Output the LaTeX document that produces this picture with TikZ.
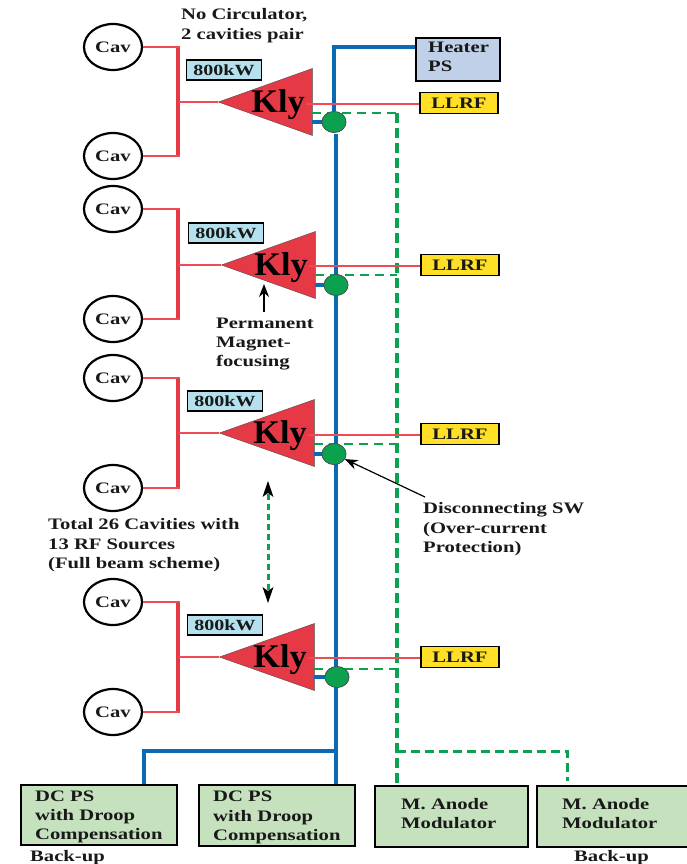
\documentclass[tikz,border=0pt]{standalone}
\usepackage{fontspec}
\setmainfont{Liberation Serif}[FakeStretch=1.29,BoldFont={Liberation Serif Bold}]
\newfontfamily\klyfont{Liberation Serif Bold}[FakeStretch=1.04]
\usetikzlibrary{arrows.meta,shapes.geometric}
\definecolor{rline}{HTML}{EE4B55}
\definecolor{rfill}{HTML}{E63946}
\definecolor{bline}{HTML}{0A6AB2}
\definecolor{gline}{HTML}{0BA14F}
\definecolor{boxg}{HTML}{C5E1BE}
\definecolor{boxb}{HTML}{BFD0E8}
\definecolor{boxc}{HTML}{B5E1EF}
\definecolor{boxy}{HTML}{FFE026}
\tikzset{
 every node/.style={font=\bfseries\fontsize{16}{19.3}\selectfont,text=black!90},
 cavnode/.style={draw,line width=2.2pt,ellipse,minimum width=58pt,minimum height=46pt,inner sep=0pt},
 kwbox/.style={draw,line width=1.4pt,fill=boxc,minimum width=75pt,minimum height=20pt,inner sep=0pt},
 llrfbox/.style={draw,line width=1.4pt,fill=boxy,minimum width=78pt,minimum height=21pt,inner sep=0pt},
 psbox/.style={draw,line width=1.7pt,fill=boxg,inner sep=0pt,anchor=north west,text width=0pt},
 swnode/.style={draw=black!70,line width=.6pt,fill=gline,ellipse,minimum width=24pt,minimum height=21pt,inner sep=0pt},
 note/.style={align=left,anchor=north west,inner sep=0pt},
 redt/.style={draw=rline,line width=2.8pt},
 bluew/.style={draw=bline,line width=3.4pt},
 greend/.style={draw=gline,line width=3.8pt,dash pattern=on 10pt off 5pt},
 greent/.style={draw=gline,line width=2.5pt,dash pattern=on 9pt off 6pt},
 ptr/.style={draw=black,line width=1.2pt,-{Stealth[length=13pt,width=10pt]}}
}
\begin{document}
\begin{tikzpicture}[x=1pt,y=-1pt]
\useasboundingbox (0,0) rectangle (687,864);
\foreach \n/\tx/\ty/\tr/\cx/\cy/\kx/\lx/\ca/\cb/\ly/\dy in {
 a/218/102/312/334/122/224/459/47/156/104/113,
 b/221/265/315/336/285/226/460/209/319/266/275,
 c/219/433/314/334/454/225/460/378/488/435/444,
 d/219/657/314/337/677/225/460/602/712/658/669}{
  \node[cavnode] (cav\n1) at (113,\ca) {Cav};
  \node[cavnode] (cav\n2) at (113,\cb) {Cav};
  \node[kwbox] (kw\n) at (\kx,{\ty-32}) {\fontsize{15.5}{18}\selectfont 800kW};
  \node[fill=rfill,draw=black!70,line width=.4pt,inner sep=0pt,
    isosceles triangle,isosceles triangle apex angle=71,shape border rotate=180,
    isosceles triangle stretches,minimum height={\tr-\tx},minimum width=67pt,anchor=apex] (kly\n) at (\tx,\ty) {};
  \node[font=\klyfont\fontsize{33}{33}\selectfont,text=black,inner sep=0pt] (klyt\n) at ({\tr-34},{\ty+3}) {Kly};
  \coordinate (bus\n1) at (178,\ca);
  \coordinate (bus\n2) at (178,\cb);
  \coordinate (busm\n) at (178,\ty);
  \draw[draw=rfill,line width=3.4pt] (bus\n1) -- (bus\n2);
  \draw[redt] (cav\n1.east) -- ([xshift=1.7pt]bus\n1);
  \draw[redt] (cav\n2.east) -- ([xshift=1.7pt]bus\n2);
  \draw[redt] (busm\n) -- (kly\n.apex);
  \node[llrfbox] (llrf\n) at (\lx,\ly-1) {LLRF};
  \node[swnode] (sw\n) at (\cx,\cy) {};
  \coordinate (ks\n) at (\tr,\cy);
  \draw[draw=bline,line width=3.2pt] (ks\n) -- (sw\n);
  \coordinate (dg\n) at (\tr,\dy);
  \coordinate (dh\n) at (397,\dy);
  \draw[greent] (dg\n) -- (dh\n);
  \coordinate (kl\n) at ({\tr-6},\ly);
}
% bottom boxes
\node[psbox,minimum width=156pt,minimum height=60pt] (dc1) at (20,784) {};
\node[psbox,minimum width=156pt,minimum height=61pt] (dc2) at (198,784) {};
\node[psbox,minimum width=153pt,minimum height=61pt] (ma1) at (374,785) {};
\node[psbox,minimum width=160pt,minimum height=61pt] (ma2) at (536,785) {};
\node[note] (dc1t) at (35,790.5) {DC PS\\with Droop\\Compensation};
\node[note] (dc2t) at (213,791) {DC PS\\with Droop\\Compensation};
\node[note] (ma1t) at (401,798) {M. Anode\\Modulator};
\node[note] (ma2t) at (562,798) {M. Anode\\Modulator};
\node[note] (bk1) at (30,850) {Back-up};
\node[note] (bk2) at (574,850) {Back-up};
% heater
\node[draw,line width=1.7pt,fill=boxb,minimum width=84pt,minimum height=43pt,inner sep=0pt,anchor=north west] (heat) at (415,37) {};
\node[note] (heatt) at (428,42) {Heater\\PS};
% blue
\coordinate (hb) at (334,47);
\draw[bluew] (heat.west|-hb) -- (hb) -- (swa);
\coordinate (t1) at (336,134);
\coordinate (j1) at (336,751);
\coordinate (j2) at (144,751);
\draw[bluew] (t1) -- (dc2.north-|t1);
\draw[bluew] (j1) -- (j2) -- (dc1.north-|j2);
% green trunk
\coordinate (g1) at (397,113);
\coordinate (g2) at (397,751);
\coordinate (g3) at (567,751);
\coordinate (g4) at (567,781);
\draw[greend] (g1) -- (ma1.north-|g1);
\draw[greend,line width=3pt,dash pattern=on 9pt off 5pt] (g2) -- (g3) -- (g4);
% red lines to LLRF, over the rest
\foreach \n in {a,b,c,d}{
  \draw[redt] (kl\n) -- (kl\n-|llrf\n.west);
  \node[swnode] (swt\n) at (sw\n) {};
}
% notes
\node[note] (n1) at (181,8.5) {No Circulator,\\2 cavities pair};
\node[note] (n2) at (216,317.5) {Permanent\\Magnet-\\focusing};
\node[note] (n3) at (48,518.5) {Total 26 Cavities with\\13 RF Sources\\(Full beam scheme)};
\node[note] (n4) at (423,502.5) {Disconnecting SW\\(Over-current\\Protection)};
\coordinate (p1) at (264,312);
\coordinate (p2) at (264,284);
\draw[ptr] (p1) -- (p2);
\coordinate (p3) at (425,497);
\draw[ptr] (p3) -- (swtc);
\draw[draw=gline,line width=3pt,dash pattern=on 6pt off 4pt] (268,494) -- (268,590);
\draw[draw=none,fill=black] (268,481) -- (273.5,497) -- (268,493) -- (262.5,497) -- cycle;
\draw[draw=none,fill=black] (268,603) -- (273.5,587) -- (268,591) -- (262.5,587) -- cycle;
\end{tikzpicture}
\end{document}
